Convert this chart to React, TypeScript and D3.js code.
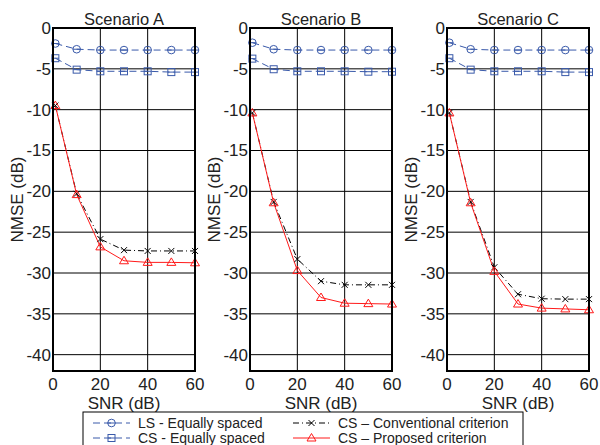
import React from "react";
import * as d3 from "d3";

const snr = [1, 10, 20, 30, 40, 50, 60];
const scenarios = ["Scenario A", "Scenario B", "Scenario C"];
const lsEqual = [
  [-1.9, -2.6, -2.7, -2.7, -2.7, -2.7, -2.7],
  [-1.8, -2.6, -2.7, -2.7, -2.7, -2.7, -2.7],
  [-1.8, -2.6, -2.7, -2.7, -2.7, -2.7, -2.7],
];
const csEqual = [
  [-3.7, -5.1, -5.3, -5.3, -5.3, -5.4, -5.4],
  [-3.75, -5.05, -5.3, -5.3, -5.3, -5.35, -5.35],
  [-3.7, -5.1, -5.3, -5.3, -5.3, -5.4, -5.4],
];
const csConv = [
  [-9.5, -20.3, -25.85, -27.2, -27.3, -27.3, -27.3],
  [-10.4, -21.3, -28.3, -31.0, -31.45, -31.45, -31.45],
  [-10.4, -21.3, -29.3, -32.6, -33.15, -33.2, -33.2],
];
const csProp = [
  [-9.5, -20.4, -26.8, -28.5, -28.7, -28.7, -28.75],
  [-10.4, -21.4, -29.7, -33.0, -33.7, -33.75, -33.8],
  [-10.4, -21.4, -29.8, -33.8, -34.3, -34.4, -34.5],
];
const xTicks = [0, 20, 40, 60];
const yTicks = [0, -5, -10, -15, -20, -25, -30, -35, -40];
const legendLabels = [
  "LS - Equally spaced",
  "CS - Equally spaced",
  "CS \u2013 Conventional criterion",
  "CS \u2013 Proposed criterion",
];

const BLUE = "#3a5aaa";
const RED = "#ff1a1a";
const FONT = "'Liberation Sans', Arial, sans-serif";
const TXT = "#222";

const panelLefts = [53, 250, 447];
const PW = 142;
const TOP = 28;
const BOTTOM = 371;

type MarkerKind = "circle" | "square" | "x" | "tri";

function Marker({ kind, x, y, color }: { kind: MarkerKind; x: number; y: number; color: string }) {
  if (kind === "circle")
    return (
      <g>
        <circle cx={x} cy={y} r={3.8} fill="none" stroke={color} strokeWidth={1} />
        <line x1={x - 3.8} x2={x + 3.8} y1={y} y2={y} stroke={color} strokeWidth={1} />
      </g>
    );
  if (kind === "square")
    return (
      <g>
        <rect x={x - 3.5} y={y - 3.5} width={7} height={7} fill="none" stroke={color} strokeWidth={1} />
        <line x1={x - 3.5} x2={x + 3.5} y1={y} y2={y} stroke={color} strokeWidth={1} />
      </g>
    );
  if (kind === "x")
    return (
      <g stroke={color} strokeWidth={1}>
        <line x1={x - 3} x2={x + 3} y1={y - 3} y2={y + 3} />
        <line x1={x - 3} x2={x + 3} y1={y + 3} y2={y - 3} />
      </g>
    );
  return (
    <polygon
      points={`${x},${y - 4.5} ${x - 4.5},${y + 3} ${x + 4.5},${y + 3}`}
      fill="none"
      stroke={color}
      strokeWidth={1}
    />
  );
}

const seriesStyles: { color: string; dash: string; marker: MarkerKind }[] = [
  { color: BLUE, dash: "7,4", marker: "circle" },
  { color: BLUE, dash: "7,4", marker: "square" },
  { color: "#000", dash: "6,3,1,3", marker: "x" },
  { color: RED, dash: "", marker: "tri" },
];

function Panel({ idx }: { idx: number }) {
  const left = panelLefts[idx];
  const x = d3.scaleLinear().domain([0, 60]).range([left, left + PW]);
  const y = d3.scaleLinear().domain([-42, 0]).range([BOTTOM, TOP]);
  const line = d3
    .line<number>()
    .x((_, i) => x(snr[i]))
    .y((d) => y(d));
  const data = [lsEqual[idx], csEqual[idx], csConv[idx], csProp[idx]];
  return (
    <g>
      <text x={left + PW / 2} y={25} textAnchor="middle" fontSize={16.5} fontFamily={FONT} fill={TXT}>
        {scenarios[idx]}
      </text>
      {xTicks.map((t) => (
        <line key={"gx" + t} x1={x(t)} x2={x(t)} y1={TOP} y2={BOTTOM} stroke="#000" strokeWidth={1} />
      ))}
      {yTicks.map((t) => (
        <line key={"gy" + t} x1={left} x2={left + PW} y1={y(t)} y2={y(t)} stroke="#000" strokeWidth={1} />
      ))}
      {data.map((d, s) => (
        <path
          key={"l" + s}
          d={line(d) || ""}
          fill="none"
          stroke={seriesStyles[s].color}
          strokeWidth={1}
          strokeDasharray={seriesStyles[s].dash}
        />
      ))}
      {data.map((d, s) =>
        d.map((v, i) => (
          <Marker key={`m${s}-${i}`} kind={seriesStyles[s].marker} x={x(snr[i])} y={y(v)} color={seriesStyles[s].color} />
        ))
      )}
      <rect x={left} y={TOP} width={PW} height={BOTTOM - TOP} fill="none" stroke="#000" strokeWidth={2} />
      {yTicks.map((t) => (
        <text
          key={"ty" + t}
          x={left - 2}
          y={y(t)}
          dy="0.35em"
          textAnchor="end"
          fontSize={17}
          fontFamily={FONT}
          fill={TXT}
        >
          {t}
        </text>
      ))}
      {xTicks.map((t) => (
        <text key={"tx" + t} x={x(t)} y={BOTTOM + 19} textAnchor="middle" fontSize={17} fontFamily={FONT} fill={TXT}>
          {t}
        </text>
      ))}
      <text x={left + PW / 2} y={BOTTOM + 38} textAnchor="middle" fontSize={17} fontFamily={FONT} fill={TXT}>
        SNR (dB)
      </text>
      <text
        transform={`translate(${left - 30},${(TOP + BOTTOM) / 2}) rotate(-90)`}
        textAnchor="middle"
        fontSize={17}
        fontFamily={FONT}
        fill={TXT}
      >
        NMSE (dB)
      </text>
    </g>
  );
}

function Legend() {
  const lx = 83;
  const ly = 412;
  const cols = [93, 293];
  const rows = [423, 438];
  const items = [0, 1, 2, 3];
  return (
    <g>
      <rect x={lx} y={ly} width={440} height={40} fill="#fff" stroke="#000" strokeWidth={1} />
      {items.map((s) => {
        const cx = cols[Math.floor(s / 2)];
        const cy = rows[s % 2];
        const st = seriesStyles[s];
        return (
          <g key={"lg" + s}>
            <line x1={cx} x2={cx + 37} y1={cy} y2={cy} stroke={st.color} strokeWidth={1} strokeDasharray={st.dash} />
            <Marker kind={st.marker} x={cx + 18.5} y={cy} color={st.color} />
            <text x={cx + 45} y={cy} dy="0.35em" fontSize={14} fontFamily={FONT} fill={TXT}>
              {legendLabels[s]}
            </text>
          </g>
        );
      })}
    </g>
  );
}

export default function App() {
  return (
    <svg width={600} height={445} style={{ position: "absolute", left: 0, top: 0, background: "#fff" }}>
      <rect width={600} height={445} fill="#fff" />
      {[0, 1, 2].map((i) => (
        <Panel key={i} idx={i} />
      ))}
      <Legend />
    </svg>
  );
}
